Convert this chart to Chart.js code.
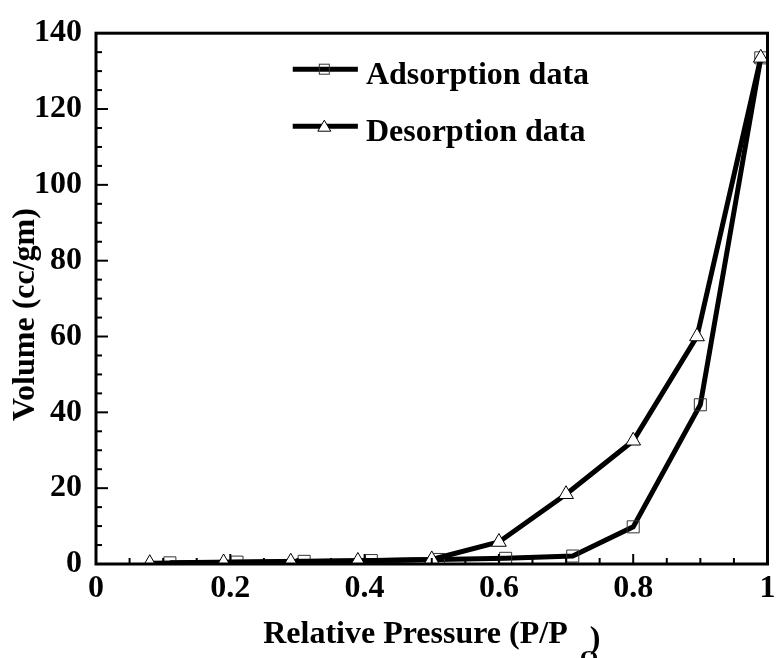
<!DOCTYPE html>
<html>
<head>
<meta charset="utf-8">
<script src="https://cdn.jsdelivr.net/npm/chart.js@4/dist/chart.umd.min.js"></script>
<style>
  html, body { margin: 0; padding: 0; background: #fff; }
  #wrap { width: 777px; height: 658px; }
</style>
</head>
<body>
<div id="wrap"><canvas id="isoChart" width="777" height="658"></canvas></div>
<script>
// Isotherm data
const adsorptionP = [0.11, 0.21, 0.31, 0.41, 0.51, 0.61, 0.71, 0.80, 0.90, 0.99];
const adsorptionV = [0.3, 0.5, 0.7, 0.9, 1.2, 1.5, 2.1, 9.8, 42, 133.5];
const desorptionP = [0.08, 0.19, 0.29, 0.39, 0.50, 0.60, 0.70, 0.80, 0.895, 0.99];
const desorptionV = [0.2, 0.4, 0.6, 0.8, 1.2, 5.8, 18.4, 32.5, 60, 133.5];
const seriesNames = ['Adsorption data', 'Desorption data'];
const xTitle = 'Relative Pressure (P/P';
const xTitleSub = 'O';
const yTitle = 'Volume (cc/gm)';

const FONT = '"Liberation Serif", "Times New Roman", Times, serif';

const toPoints = (xs, ys) => xs.map((x, i) => ({ x: x, y: ys[i] }));

// Frame, inward ticks, axis titles and legend
const decorations = {
    id: 'decorations',
    afterDraw(chart) {
        const ctx = chart.ctx;
        const area = chart.chartArea;
        const xs = chart.scales.x;
        const ys = chart.scales.y;
        ctx.save();
        ctx.strokeStyle = '#000';
        ctx.lineWidth = 3;
        ctx.strokeRect(area.left, area.top, area.right - area.left, area.bottom - area.top);

        // x ticks every 0.05, major every 0.2
        ctx.lineWidth = 2;
        for (let i = 1; i < 20; i++) {
            const v = i * 0.05;
            const px = xs.getPixelForValue(v);
            const len = (i % 4 === 0) ? 10 : 6;
            ctx.beginPath();
            ctx.moveTo(px, area.bottom);
            ctx.lineTo(px, area.bottom - len);
            ctx.stroke();
        }
        // y ticks every 5, major every 20
        for (let i = 1; i < 28; i++) {
            const v = i * 5;
            const py = ys.getPixelForValue(v);
            const len = (i % 4 === 0) ? 12 : 6;
            ctx.beginPath();
            ctx.moveTo(area.left, py);
            ctx.lineTo(area.left + len, py);
            ctx.stroke();
        }

        // x axis title with subscript
        ctx.fillStyle = '#000';
        ctx.textBaseline = 'alphabetic';
        ctx.textAlign = 'left';
        ctx.font = 'bold 32px ' + FONT;
        const wMain = ctx.measureText(xTitle).width;
        const wClose = ctx.measureText(')').width;
        const total = wMain + 22 + wClose;
        const cx = (area.left + area.right) / 2;
        const x0 = cx - total / 2;
        ctx.fillText(xTitle, x0, 643);
        ctx.fillText(')', x0 + wMain + 22, 648);
        ctx.font = 'bold 24px ' + FONT;
        ctx.fillText(xTitleSub, x0 + wMain + 12, 666);

        // y axis title
        ctx.font = 'bold 32px ' + FONT;
        ctx.save();
        ctx.translate(26, (area.top + area.bottom) / 2 + 16);
        ctx.rotate(-Math.PI / 2);
        ctx.textAlign = 'center';
        ctx.textBaseline = 'middle';
        ctx.fillText(yTitle, 0, 0);
        ctx.restore();

        // legend inside the plot
        const w = area.right - area.left;
        const lx0 = area.left + 0.293 * w;
        const lx1 = area.left + 0.39 * w;
        const mx = area.left + 0.34 * w;
        const rows = [area.top + 36, area.top + 93];
        rows.forEach((ly, k) => {
            ctx.lineWidth = 5;
            ctx.strokeStyle = '#000';
            ctx.beginPath();
            ctx.moveTo(lx0, ly);
            ctx.lineTo(lx1, ly);
            ctx.stroke();
            ctx.lineWidth = 1;
            if (k === 0) {
                ctx.strokeStyle = '#333';
                ctx.strokeRect(mx - 5, ly - 5, 10, 10);
            } else {
                ctx.beginPath();
                ctx.moveTo(mx, ly - 6);
                ctx.lineTo(mx + 6.5, ly + 5);
                ctx.lineTo(mx - 6.5, ly + 5);
                ctx.closePath();
                ctx.fillStyle = '#fff';
                ctx.fill();
                ctx.strokeStyle = '#000';
                ctx.stroke();
            }
            ctx.fillStyle = '#000';
            ctx.font = 'bold 32px ' + FONT;
            ctx.textAlign = 'left';
            ctx.textBaseline = 'alphabetic';
            ctx.fillText(seriesNames[k], lx1 + 8, ly + 15);
        });
        ctx.restore();
    }
};

const ctx = document.getElementById('isoChart').getContext('2d');
new Chart(ctx, {
    type: 'scatter',
    data: {
        datasets: [{
            label: seriesNames[1],
            data: toPoints(desorptionP, desorptionV),
            showLine: true,
            borderColor: '#000',
            borderWidth: 5,
            pointStyle: 'triangle',
            pointRadius: 8.5,
            pointBorderWidth: 1,
            pointBorderColor: '#000',
            pointBackgroundColor: '#fff'
        }, {
            label: seriesNames[0],
            data: toPoints(adsorptionP, adsorptionV),
            showLine: true,
            borderColor: '#000',
            borderWidth: 5,
            pointStyle: 'rect',
            pointRadius: 8.5,
            pointBorderWidth: 1,
            pointBorderColor: '#333',
            pointBackgroundColor: 'rgba(255,255,255,0)'
        }]
    },
    options: {
        responsive: false,
        animation: false,
        events: [],
        layout: { padding: { top: 27, right: 8, left: 0, bottom: 0 } },
        plugins: {
            legend: { display: false },
            tooltip: { enabled: false }
        },
        scales: {
            x: {
                type: 'linear',
                min: 0,
                max: 1,
                grid: { display: false, drawTicks: false },
                border: { display: false },
                afterFit(scale) { scale.height = 94; scale.paddingRight = 0; scale.paddingLeft = 0; },
                ticks: {
                    stepSize: 0.2,
                    padding: 6,
                    color: '#000',
                    font: { family: FONT, size: 32, weight: 'bold' },
                    callback: v => String(+v.toFixed(2))
                }
            },
            y: {
                min: 0,
                max: 140,
                grid: { display: false, drawTicks: false },
                border: { display: false },
                afterFit(scale) { scale.width = 96; },
                ticks: {
                    stepSize: 20,
                    padding: 14,
                    color: '#000',
                    font: { family: FONT, size: 32, weight: 'bold' }
                }
            }
        }
    },
    plugins: [decorations]
});
</script>
</body>
</html>
